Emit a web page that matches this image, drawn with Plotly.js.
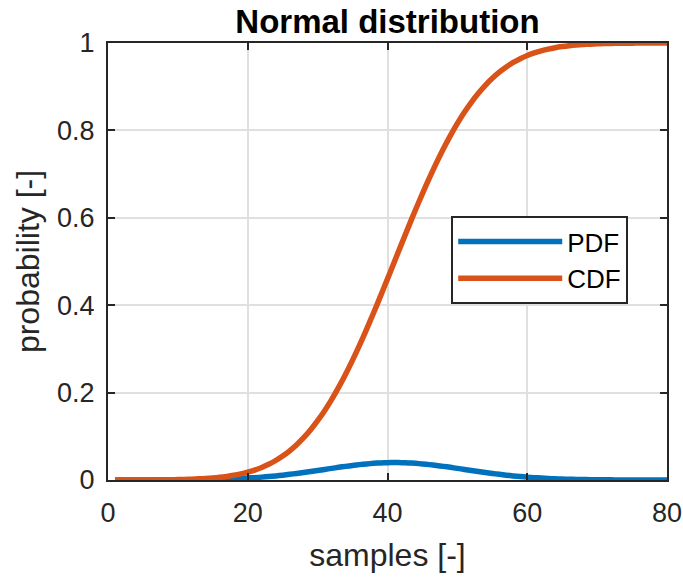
<!DOCTYPE html>
<html>
<head>
<meta charset="utf-8">
<script src="https://cdn.plot.ly/plotly-3.0.1.min.js"></script>
<style>html,body{margin:0;padding:0;background:#fff;}#chart{width:683px;height:579px;}</style>
</head>
<body>
<div id="chart"></div>
<script>
// samples (x)
const samples = [1,2,3,4,5,6,7,8,9,10,11,12,13,14,15,16,17,18,19,20,21,22,23,24,25,26,27,28,29,30,31,32,33,34,35,36,37,38,39,40,41,42,43,44,45,46,47,48,49,50,51,52,53,54,55,56,57,58,59,60,61,62,63,64,65,66,67,68,69,70,71,72,73,74,75,76,77,78,79,80];
// PDF values
const pdfValues = [0.0000,0.0000,0.0000,0.0000,0.0001,0.0001,0.0001,0.0002,0.0002,0.0003,0.0004,0.0006,0.0008,0.0010,0.0014,0.0018,0.0022,0.0028,0.0035,0.0044,0.0054,0.0066,0.0079,0.0094,0.0111,0.0130,0.0150,0.0171,0.0194,0.0218,0.0242,0.0266,0.0290,0.0312,0.0333,0.0352,0.0368,0.0381,0.0391,0.0397,0.0399,0.0397,0.0391,0.0381,0.0368,0.0352,0.0333,0.0312,0.0290,0.0266,0.0242,0.0218,0.0194,0.0171,0.0150,0.0130,0.0111,0.0094,0.0079,0.0066,0.0054,0.0044,0.0035,0.0028,0.0022,0.0018,0.0014,0.0010,0.0008,0.0006,0.0004,0.0003,0.0002,0.0002,0.0001,0.0001,0.0001,0.0000,0.0000,0.0000];
// CDF values
const cdfValues = [0.0000,0.0000,0.0001,0.0001,0.0002,0.0002,0.0003,0.0005,0.0007,0.0010,0.0013,0.0019,0.0026,0.0035,0.0047,0.0062,0.0082,0.0107,0.0139,0.0179,0.0228,0.0287,0.0359,0.0446,0.0548,0.0668,0.0808,0.0968,0.1151,0.1357,0.1587,0.1841,0.2119,0.2420,0.2743,0.3085,0.3446,0.3821,0.4207,0.4602,0.5000,0.5398,0.5793,0.6179,0.6554,0.6915,0.7257,0.7580,0.7881,0.8159,0.8413,0.8643,0.8849,0.9032,0.9192,0.9332,0.9452,0.9554,0.9641,0.9713,0.9772,0.9821,0.9861,0.9893,0.9918,0.9938,0.9953,0.9965,0.9974,0.9981,0.9986,0.9990,0.9993,0.9995,0.9997,0.9998,0.9998,0.9999,0.9999,1.0000];
const seriesNames = ['PDF','CDF'];
const xTicks = [0,20,40,60,80];
const xTickLabels = ['0','20','40','60','80'];
const yTicks = [0,0.2,0.4,0.6,0.8,1];
const yTickLabels = ['0','0.2','0.4','0.6','0.8','1'];

const FONT = 'Liberation Sans, Arial, Helvetica, sans-serif';
const traces = [
  {x: samples, y: pdfValues, name: seriesNames[0], type: 'scatter', mode: 'lines',
   line: {color: '#0072BD', width: 5.5, shape: 'spline', smoothing: 0.6, simplify: false}},
  {x: samples, y: cdfValues, name: seriesNames[1], type: 'scatter', mode: 'lines',
   line: {color: '#D95319', width: 5.5, shape: 'spline', smoothing: 0.6, simplify: false}}
];
const axisCommon = {
  showline: true, mirror: 'ticks', linecolor: '#262626', linewidth: 2,
  ticks: 'inside', ticklen: 7, tickwidth: 2, tickcolor: '#262626',
  showgrid: true, gridcolor: '#E0E0E0', gridwidth: 2, zeroline: false,
  tickfont: {family: FONT, size: 27, color: '#262626'}
};
const layout = {
  width: 683, height: 579,
  margin: {l: 108, r: 16, t: 43, b: 99},
  paper_bgcolor: '#fff', plot_bgcolor: '#fff',
  title: {text: '<b>Normal distribution</b>', font: {family: FONT, size: 33, color: '#000'},
          x: 0.5, xref: 'paper', xanchor: 'center', y: 0.983, yref: 'container', yanchor: 'top'},
  xaxis: Object.assign({}, axisCommon, {
    range: [0, 80], tickvals: xTicks, ticktext: xTickLabels, ticklabelstandoff: 8,
    title: {text: 'samples [-]', font: {family: FONT, size: 32, color: '#262626'}, standoff: 16}
  }),
  yaxis: Object.assign({}, axisCommon, {
    range: [0, 1], tickvals: yTicks, ticktext: yTickLabels, ticklabelstandoff: 6,
    title: {text: 'probability [-]', font: {family: FONT, size: 32, color: '#262626'}, standoff: 8}
  }),
  showlegend: true,
  legend: {x: 0.614, y: 0.604, xanchor: 'left', yanchor: 'top',
           bgcolor: '#fff', bordercolor: '#262626', borderwidth: 2,
           font: {family: FONT, size: 26, color: '#000'}, itemwidth: 104, tracegroupgap: 0}
};
Plotly.newPlot('chart', traces, layout, {displayModeBar: false, staticPlot: true});
</script>
</body>
</html>
